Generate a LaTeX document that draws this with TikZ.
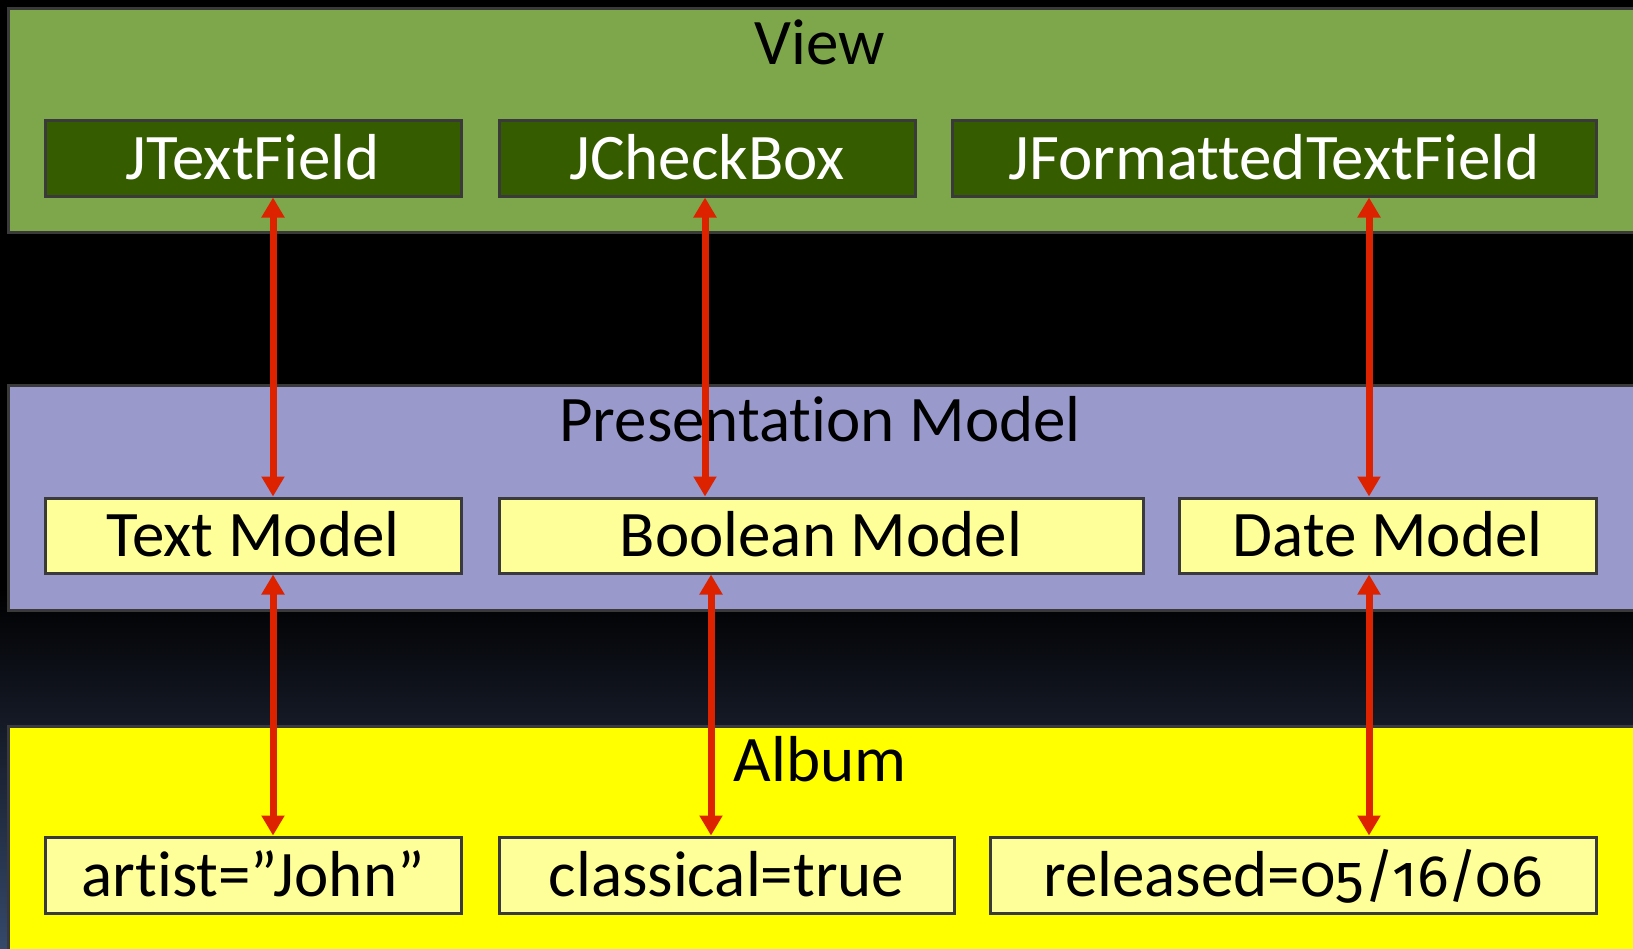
\documentclass[tikz,border=0pt]{standalone}
\usepackage{fontspec}
\setmainfont[Ligatures=NoCommon, RawFeature={-liga;-clig;-calt;-dlig}]{Carlito}
\newfontfamily\oldnum[Numbers=OldStyle, Scale=0.9]{Fira Sans}
\usetikzlibrary{arrows.meta}
\definecolor{viewgreen}{HTML}{7EA64B}
\definecolor{boxgreen}{HTML}{365C00}
\definecolor{presblue}{HTML}{9999CC}
\definecolor{lightyel}{HTML}{FFFF99}
\definecolor{albumyel}{HTML}{FFFF00}
\definecolor{bordergray}{HTML}{3A3A3A}
\definecolor{arrred}{HTML}{DD2200}
\definecolor{navybot}{HTML}{35496B}
\definecolor{navymid}{HTML}{141925}
\pgfdeclareverticalshading{bgshade}{100bp}{color(0bp)=(navybot); color(25bp)=(navybot); color(37bp)=(navymid); color(44bp)=(black); color(100bp)=(black)}
\tikzset{
  panel/.style={draw=bordergray, line width=3pt, rectangle, inner sep=0pt},
  title/.style={anchor=base, font=\fontsize{65}{70}\selectfont, text=black, inner sep=0pt},
  box/.style={draw=bordergray, line width=3pt, rectangle, inner sep=0pt,
    font=\fontsize{65}{70}\selectfont, text height=42pt, text depth=0pt},
  viewbox/.style={box, fill=boxgreen, text=white},
  modelbox/.style={box, fill=lightyel, text=black},
  arr/.style={draw=arrred, line width=7pt, {Triangle[width=22pt,length=20pt]}-{Triangle[width=22pt,length=20pt]}, color=arrred}
}
\begin{document}
\begin{tikzpicture}[x=1pt,y=-1pt]
\clip (0,0) rectangle (1633,948);
\shade[shading=bgshade] (0,0) rectangle (1633,948);
% panels
\path[panel, fill=viewgreen] (8,8) rectangle (1634,232);
\path[panel, fill=presblue] (8,385) rectangle (1634,610);
\path[panel, fill=albumyel] (8,726) rectangle (1634,980);
% titles
\node[title] (tview) at (820,64) {View};
\node[title] (tpres) at (820,441) {Presentation Model};
\node[title] (talbum) at (820,781) {Album};
% view boxes
\node[viewbox, minimum width=416pt, minimum height=76pt] (jtf) at (253,158) {JTextField};
\node[viewbox, minimum width=416pt, minimum height=76pt] (jcb) at (707,158) {JCheckBox};
\node[viewbox, minimum width=644pt, minimum height=76pt] (jftf) at (1274,158) {JFormattedTextField};
% model boxes
\node[modelbox, minimum width=416pt, minimum height=75pt] (tm) at (253,535.5) {Text Model};
\node[modelbox, minimum width=644pt, minimum height=75pt] (bm) at (821,535.5) {Boolean Model};
\node[modelbox, minimum width=417pt, minimum height=75pt] (dm) at (1387.5,535.5) {Date Model};
% album boxes
\node[modelbox, minimum width=416pt, minimum height=76pt] (artist) at (253,875) {artist=”John”};
\node[modelbox, minimum width=455pt, minimum height=76pt] (classical) at (726.5,875) {classical=true};
\node[modelbox, minimum width=606pt, minimum height=76pt] (released) at (1293,875) {released={\oldnum 05/16/06}};
% arrow columns
\coordinate (a1) at (273,0);
\coordinate (a2) at (705,0);
\coordinate (a3) at (1369,0);
\coordinate (b2) at (711,0);
% arrows
\draw[arr] (jtf.south -| a1) -- (tm.north -| a1);
\draw[arr] (jcb.south -| a2) -- (bm.north -| a2);
\draw[arr] (jftf.south -| a3) -- (dm.north -| a3);
\draw[arr] (tm.south -| a1) -- (artist.north -| a1);
\draw[arr] (bm.south -| b2) -- (classical.north -| b2);
\draw[arr] (dm.south -| a3) -- (released.north -| a3);
\end{tikzpicture}
\end{document}
